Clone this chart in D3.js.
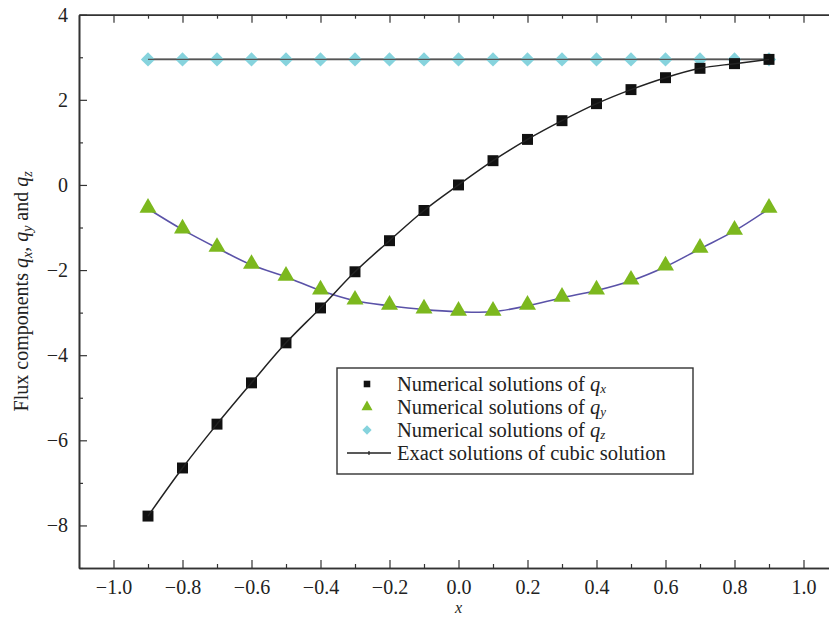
<!DOCTYPE html>
<html>
<head>
<meta charset="utf-8">
<script src="https://cdn.jsdelivr.net/npm/d3@7"></script>
<style>
  body { margin: 0; background: #fff; }
  svg { display: block; font-family: "Liberation Serif", "Times New Roman", serif; }
</style>
</head>
<body>
<svg id="chart" width="829" height="618"></svg>
<script>
// positions along x where the solutions were sampled
const xVals = [-0.9, -0.8, -0.7, -0.6, -0.5, -0.4, -0.3, -0.2, -0.1, 0.0, 0.1, 0.2, 0.3, 0.4, 0.5, 0.6, 0.7, 0.8, 0.9];

// flux components
const qx = [-7.78, -6.65, -5.62, -4.65, -3.71, -2.89, -2.04, -1.31, -0.60, 0.0, 0.57, 1.07, 1.51, 1.91, 2.24, 2.52, 2.74, 2.85, 2.95];
const qy = [-0.56, -1.05, -1.48, -1.88, -2.16, -2.48, -2.72, -2.84, -2.93, -2.98, -2.98, -2.84, -2.65, -2.48, -2.25, -1.92, -1.50, -1.08, -0.56];
const qz = [2.95, 2.95, 2.95, 2.95, 2.95, 2.95, 2.95, 2.95, 2.95, 2.95, 2.95, 2.95, 2.95, 2.95, 2.95, 2.95, 2.95, 2.95, 2.95];

// tick values
const xMajor = [-1.0, -0.8, -0.6, -0.4, -0.2, 0.0, 0.2, 0.4, 0.6, 0.8, 1.0];
const xMinor = [-0.9, -0.7, -0.5, -0.3, -0.1, 0.1, 0.3, 0.5, 0.7, 0.9];
const yMajor = [-8, -6, -4, -2, 0, 2, 4];
const yMinor = [-9, -7, -5, -3, -1, 1, 3];

const legendLabels = ["x", "y", "z"];

const svg = d3.select("#chart");

const margin = { top: 14.7, left: 79, right: -9, bottom: 50 }; // right edge of the frame lies just past the window
const W = 829, H = 618;
const plotW = W - margin.left - margin.right;
const plotH = H - margin.top - margin.bottom;

const x = d3.scaleLinear().domain([-1.1, 1.1]).range([0, plotW]);
const y = d3.scaleLinear().domain([-9, 4]).range([plotH, 0]);

const g = svg.append("g").attr("transform", `translate(${margin.left},${margin.top})`);

// styling helper for the axis groups
function styleAxis(sel, labels) {
  sel.select(".domain").attr("stroke", "#333").attr("stroke-width", 1.6);
  sel.selectAll(".tick line").attr("stroke", "#333").attr("stroke-width", 1.2);
  if (labels) {
    sel.selectAll(".tick text").attr("font-size", 20).attr("fill", "#222")
      .attr("font-family", "Liberation Serif, serif");
  } else {
    sel.selectAll(".tick text").remove();
  }
}

// bottom axis
const xb = g.append("g").attr("transform", `translate(0,${plotH})`)
  .call(d3.axisBottom(x).tickValues(xMajor).tickSizeInner(-8).tickSizeOuter(0).tickPadding(12).tickFormat(d3.format(".1f")));
styleAxis(xb, true);
const xbm = g.append("g").attr("transform", `translate(0,${plotH})`)
  .call(d3.axisBottom(x).tickValues(xMinor).tickSizeInner(-4).tickSizeOuter(0));
styleAxis(xbm, false);

// top axis
const xt = g.append("g")
  .call(d3.axisTop(x).tickValues(xMajor).tickSizeInner(-8).tickSizeOuter(0));
styleAxis(xt, false);
const xtm = g.append("g")
  .call(d3.axisTop(x).tickValues(xMinor).tickSizeInner(-4).tickSizeOuter(0));
styleAxis(xtm, false);

// left axis
const yl = g.append("g")
  .call(d3.axisLeft(y).tickValues(yMajor).tickSizeInner(-8).tickSizeOuter(0).tickPadding(11).tickFormat(d3.format("d")));
styleAxis(yl, true);
const ylm = g.append("g")
  .call(d3.axisLeft(y).tickValues(yMinor).tickSizeInner(-4).tickSizeOuter(0));
styleAxis(ylm, false);

// right axis (mostly outside the window)
const yr = g.append("g").attr("transform", `translate(${plotW},0)`)
  .call(d3.axisRight(y).tickValues(yMajor).tickSizeInner(-9).tickSizeOuter(0));
styleAxis(yr, false);
yr.selectAll(".tick line").attr("stroke", "#bbb");

// exact solution curves
const line = d3.line().x(d => x(d[0])).y(d => y(d[1])).curve(d3.curveCatmullRom);
const pairs = arr => xVals.map((v, i) => [v, arr[i]]);

g.append("path").datum(pairs(qz)).attr("d", line)
  .attr("fill", "none").attr("stroke", "#555").attr("stroke-width", 1.8);
g.append("path").datum(pairs(qy)).attr("d", line)
  .attr("fill", "none").attr("stroke", "#5a52a8").attr("stroke-width", 1.6);

// numerical markers
const sq = d3.symbol().type(d3.symbolSquare).size(120);
const tri = d3.symbol().type(d3.symbolTriangle).size(125);
const dia = d3.symbol().type(d3.symbolDiamond2).size(130);

g.selectAll("path.qz").data(pairs(qz)).join("path").attr("class", "qz")
  .attr("d", dia).attr("transform", d => `translate(${x(d[0])},${y(d[1])})`)
  .attr("fill", "#86d3dd");

g.selectAll("path.qy").data(pairs(qy)).join("path").attr("class", "qy")
  .attr("d", tri).attr("transform", d => `translate(${x(d[0])},${y(d[1]) - 1})`)
  .attr("fill", "#7cb81e");

// the q_z line is redrawn thin over the diamonds
g.append("path").datum(pairs(qz)).attr("d", line)
  .attr("fill", "none").attr("stroke", "#555").attr("stroke-width", 1.4);

g.selectAll("path.qx").data(pairs(qx)).join("path").attr("class", "qx")
  .attr("d", sq).attr("transform", d => `translate(${x(d[0])},${y(d[1])})`)
  .attr("fill", "#111");
g.append("path").datum(pairs(qx)).attr("d", line)
  .attr("fill", "none").attr("stroke", "#222").attr("stroke-width", 1.5);

// legend
const lg = svg.append("g").attr("transform", "translate(337,368)");
lg.append("rect").attr("width", 356).attr("height", 106)
  .attr("fill", "#fff").attr("stroke", "#333").attr("stroke-width", 1.4);

const rowY = [16, 39, 62, 85];
const markerFns = [sq, tri, dia];
const markerFill = ["#111", "#7cb81e", "#86d3dd"];
const markerSize = [0.6, 0.65, 0.65];

legendLabels.forEach((sub, i) => {
  lg.append("path").attr("d", markerFns[i])
    .attr("transform", `translate(30,${rowY[i]}) scale(${markerSize[i]})`)
    .attr("fill", markerFill[i]);
  const t = lg.append("text").attr("x", 60).attr("y", rowY[i] + 7)
    .attr("font-size", 20.5).attr("fill", "#222");
  t.append("tspan").text("Numerical solutions of ");
  t.append("tspan").attr("font-style", "italic").text("q");
  t.append("tspan").attr("font-style", "italic").attr("font-size", 13).attr("dy", 2).text(sub);
});

lg.append("line").attr("x1", 10).attr("x2", 54).attr("y1", rowY[3]).attr("y2", rowY[3])
  .attr("stroke", "#222").attr("stroke-width", 1.5);
lg.append("line").attr("x1", 32).attr("x2", 32).attr("y1", rowY[3] - 2).attr("y2", rowY[3] + 2)
  .attr("stroke", "#222").attr("stroke-width", 1.2);
lg.append("text").attr("x", 60).attr("y", rowY[3] + 7)
  .attr("font-size", 20.5).attr("fill", "#222").text("Exact solutions of cubic solution");

// axis titles
svg.append("text").attr("x", margin.left + x(0)).attr("y", 613)
  .attr("text-anchor", "middle").attr("font-size", 16).attr("font-style", "italic")
  .attr("fill", "#222").text("x");

const yt = svg.append("text")
  .attr("transform", `translate(28,${margin.top + plotH / 2}) rotate(-90)`)
  .attr("text-anchor", "middle").attr("font-size", 20).attr("fill", "#222");
yt.append("tspan").text("Flux components ");
yt.append("tspan").attr("font-style", "italic").text("q");
yt.append("tspan").attr("font-style", "italic").attr("font-size", 14).attr("dy", 4).text("x");
yt.append("tspan").attr("dy", -4).text(", ");
yt.append("tspan").attr("font-style", "italic").text("q");
yt.append("tspan").attr("font-style", "italic").attr("font-size", 14).attr("dy", 4).text("y");
yt.append("tspan").attr("dy", -4).text(" and ");
yt.append("tspan").attr("font-style", "italic").text("q");
yt.append("tspan").attr("font-style", "italic").attr("font-size", 14).attr("dy", 4).text("z");
</script>
</body>
</html>
